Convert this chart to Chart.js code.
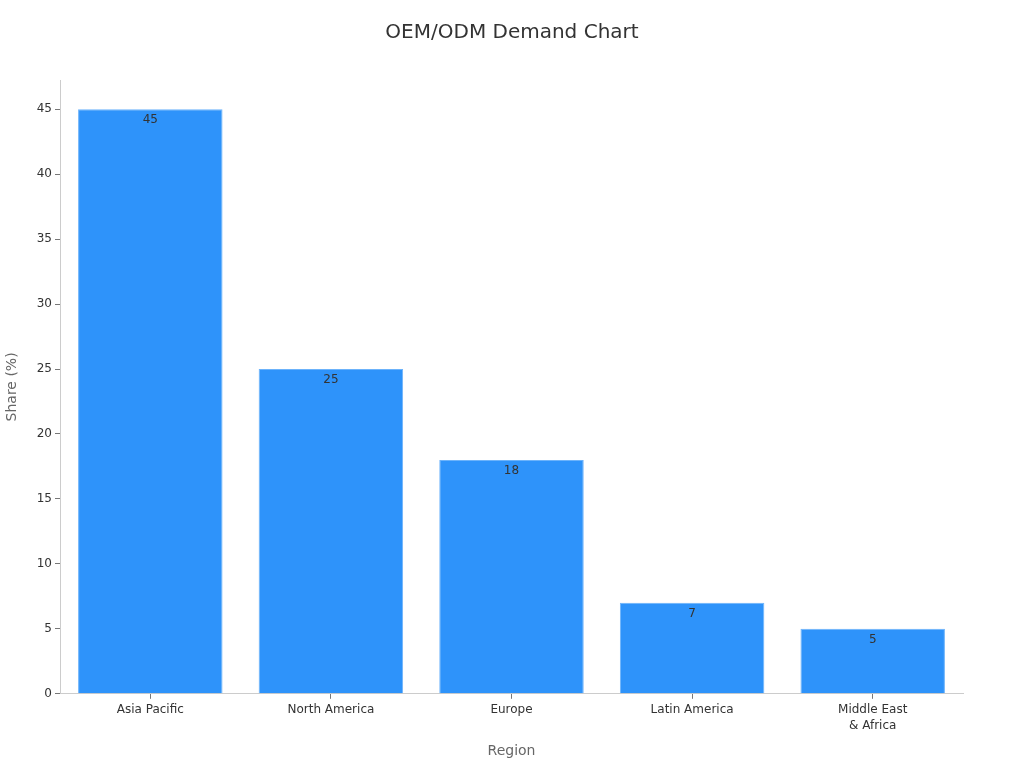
<!DOCTYPE html>
<html>
<head>
<meta charset="utf-8">
<script src="https://cdn.jsdelivr.net/npm/chart.js@4"></script>
<style>
  html, body { margin: 0; padding: 0; background: #fff; }
  #wrap { width: 1024px; height: 768px; }
</style>
</head>
<body>
<div id="wrap"><canvas id="demandChart"></canvas></div>
<script>
const regions = ['Asia Pacific', 'North America', 'Europe', 'Latin America', ['Middle East', '& Africa']];
const shares = [45, 25, 18, 7, 5];
const chartTitle = 'OEM/ODM Demand Chart';

// draw value on top inside each bar, and the title centred on the page
const valueLabelPlugin = {
  id: 'valueLabel',
  afterDatasetsDraw(chart) {
    const { ctx, data } = chart;
    ctx.save();
    ctx.font = '12px "DejaVu Sans"';
    ctx.fillStyle = '#333';
    ctx.textAlign = 'center';
    ctx.textBaseline = 'top';
    chart.getDatasetMeta(0).data.forEach((bar, j) => {
      ctx.fillText(data.datasets[0].data[j], bar.x, bar.y + 5);
    });
    ctx.font = '20px "DejaVu Sans"';
    ctx.textBaseline = 'middle';
    ctx.fillText(chartTitle, chart.width / 2, 33);
    ctx.restore();
  }
};

Chart.defaults.font.family = '"DejaVu Sans", sans-serif';

new Chart(document.getElementById('demandChart'), {
  type: 'bar',
  data: {
    labels: regions,
    datasets: [{
      data: shares,
      backgroundColor: '#2E93FA',
      borderColor: '#6cb3fb',
      borderWidth: 1,
      barPercentage: 0.8,
      categoryPercentage: 1
    }]
  },
  options: {
    responsive: true,
    maintainAspectRatio: false,
    animation: false,
    layout: { padding: { top: 80, right: 61, left: 0, bottom: 4 } },
    plugins: {
      legend: { display: false },
      tooltip: { enabled: false },
      title: { display: false }
    },
    scales: {
      x: {
        grid: { drawOnChartArea: false, drawTicks: true, tickLength: 5, color: '#777', offset: false },
        border: { color: '#ccc' },
        ticks: { color: '#333', font: { size: 12, lineHeight: 1.35 }, padding: 3 },
        title: { display: true, text: 'Region', color: '#666', font: { size: 14 }, padding: { top: 6 } }
      },
      y: {
        min: 0,
        max: 47.25,
        afterBuildTicks: s => { s.ticks = s.ticks.filter(t => t.value % 5 === 0); },
        afterFit: s => { s.width = 60; },
        grid: { drawOnChartArea: false, drawTicks: true, tickLength: 5, color: '#777' },
        border: { color: '#ccc' },
        ticks: { stepSize: 5, color: '#333', font: { size: 12 }, padding: 3 },
        title: { display: true, text: 'Share (%)', color: '#666', font: { size: 14 }, padding: { bottom: 8 } }
      }
    }
  },
  plugins: [valueLabelPlugin]
});
</script>
</body>
</html>
